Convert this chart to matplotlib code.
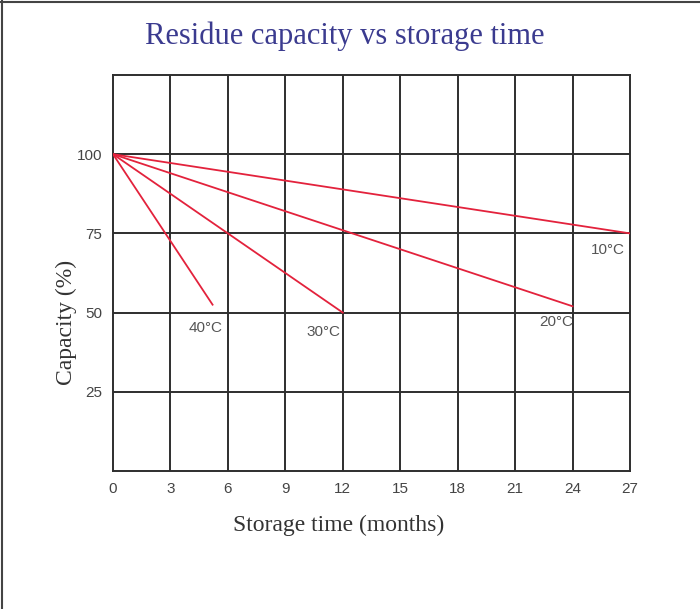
import matplotlib
matplotlib.use("Agg")
import matplotlib.pyplot as plt

# Data
months_ticks = [0, 3, 6, 9, 12, 15, 18, 21, 24, 27]
capacity_ticks = [25, 50, 75, 100]
series_names = ["40°C", "30°C", "20°C", "10°C"]
x_40 = [0, 5.2]
y_40 = [100, 52.5]
x_30 = [0, 12]
y_30 = [100, 50]
x_20 = [0, 24]
y_20 = [100, 52]
x_10 = [0, 27]
y_10 = [100, 75]

fig = plt.figure(figsize=(7.0, 6.09), dpi=100)
ax = fig.add_axes([113/700, 1-471/609, (630-113)/700, (471-75)/609])

ax.set_xlim(0, 27)
ax.set_ylim(0, 125)
ax.set_xticks(months_ticks)
ax.set_yticks(capacity_ticks)
ax.set_xticklabels([str(m) for m in months_ticks])
ax.tick_params(length=0, labelsize=11, labelcolor="#444444", pad=8,
               labelfontfamily="Liberation Sans")

grid_c = "#2e2e2e"
for xv in months_ticks[1:-1]:
    ax.axvline(xv, color=grid_c, lw=1.4, zorder=1)
for yv in capacity_ticks:
    ax.axhline(yv, color=grid_c, lw=1.4, zorder=1)
for s in ax.spines.values():
    s.set_color(grid_c)
    s.set_linewidth(1.4)

red = "#e3223c"
for xs, ys in [(x_40, y_40), (x_30, y_30), (x_20, y_20), (x_10, y_10)]:
    ax.plot(xs, ys, color=red, lw=1.3, zorder=3)

lab_kw = dict(fontsize=11, color="#555555", family="Liberation Sans", ha="center", va="center", zorder=4)
ax.text(x_40[1] - 0.36, y_40[1] - 7.4, series_names[0], **lab_kw)
ax.text(x_30[1] - 1.03, y_30[1] - 6.1, series_names[1], **lab_kw)
ax.text(x_20[1] - 0.87, y_20[1] - 5.0, series_names[2], **lab_kw)
ax.text(x_10[1] - 1.15, y_10[1] - 5.2, series_names[3], **lab_kw)

fig.text(345/700, 1-36/609, "Residue capacity vs storage time", ha="center", va="center",
         fontsize=22, family="Liberation Serif", color="#3b3b8f")
ax.set_xlabel("Storage time (months)", fontsize=17, family="Liberation Serif", color="#333333")
ax.set_ylabel("Capacity (%)", fontsize=17, family="Liberation Serif", color="#333333")
ax.xaxis.set_label_coords((338.5-113)/517, (471-525)/396)
ax.xaxis.label.set_va("center")
ax.yaxis.set_label_coords((66-113)/517, (471-322)/396)
ax.yaxis.label.set_va("center")

# page frame lines
fig.add_artist(plt.Line2D([0, 1], [1-2/609, 1-2/609], color="#444444", lw=1.5, transform=fig.transFigure))
fig.add_artist(plt.Line2D([2/700, 2/700], [0, 1], color="#444444", lw=1.5, transform=fig.transFigure))

fig.savefig("out.png", dpi=100)
